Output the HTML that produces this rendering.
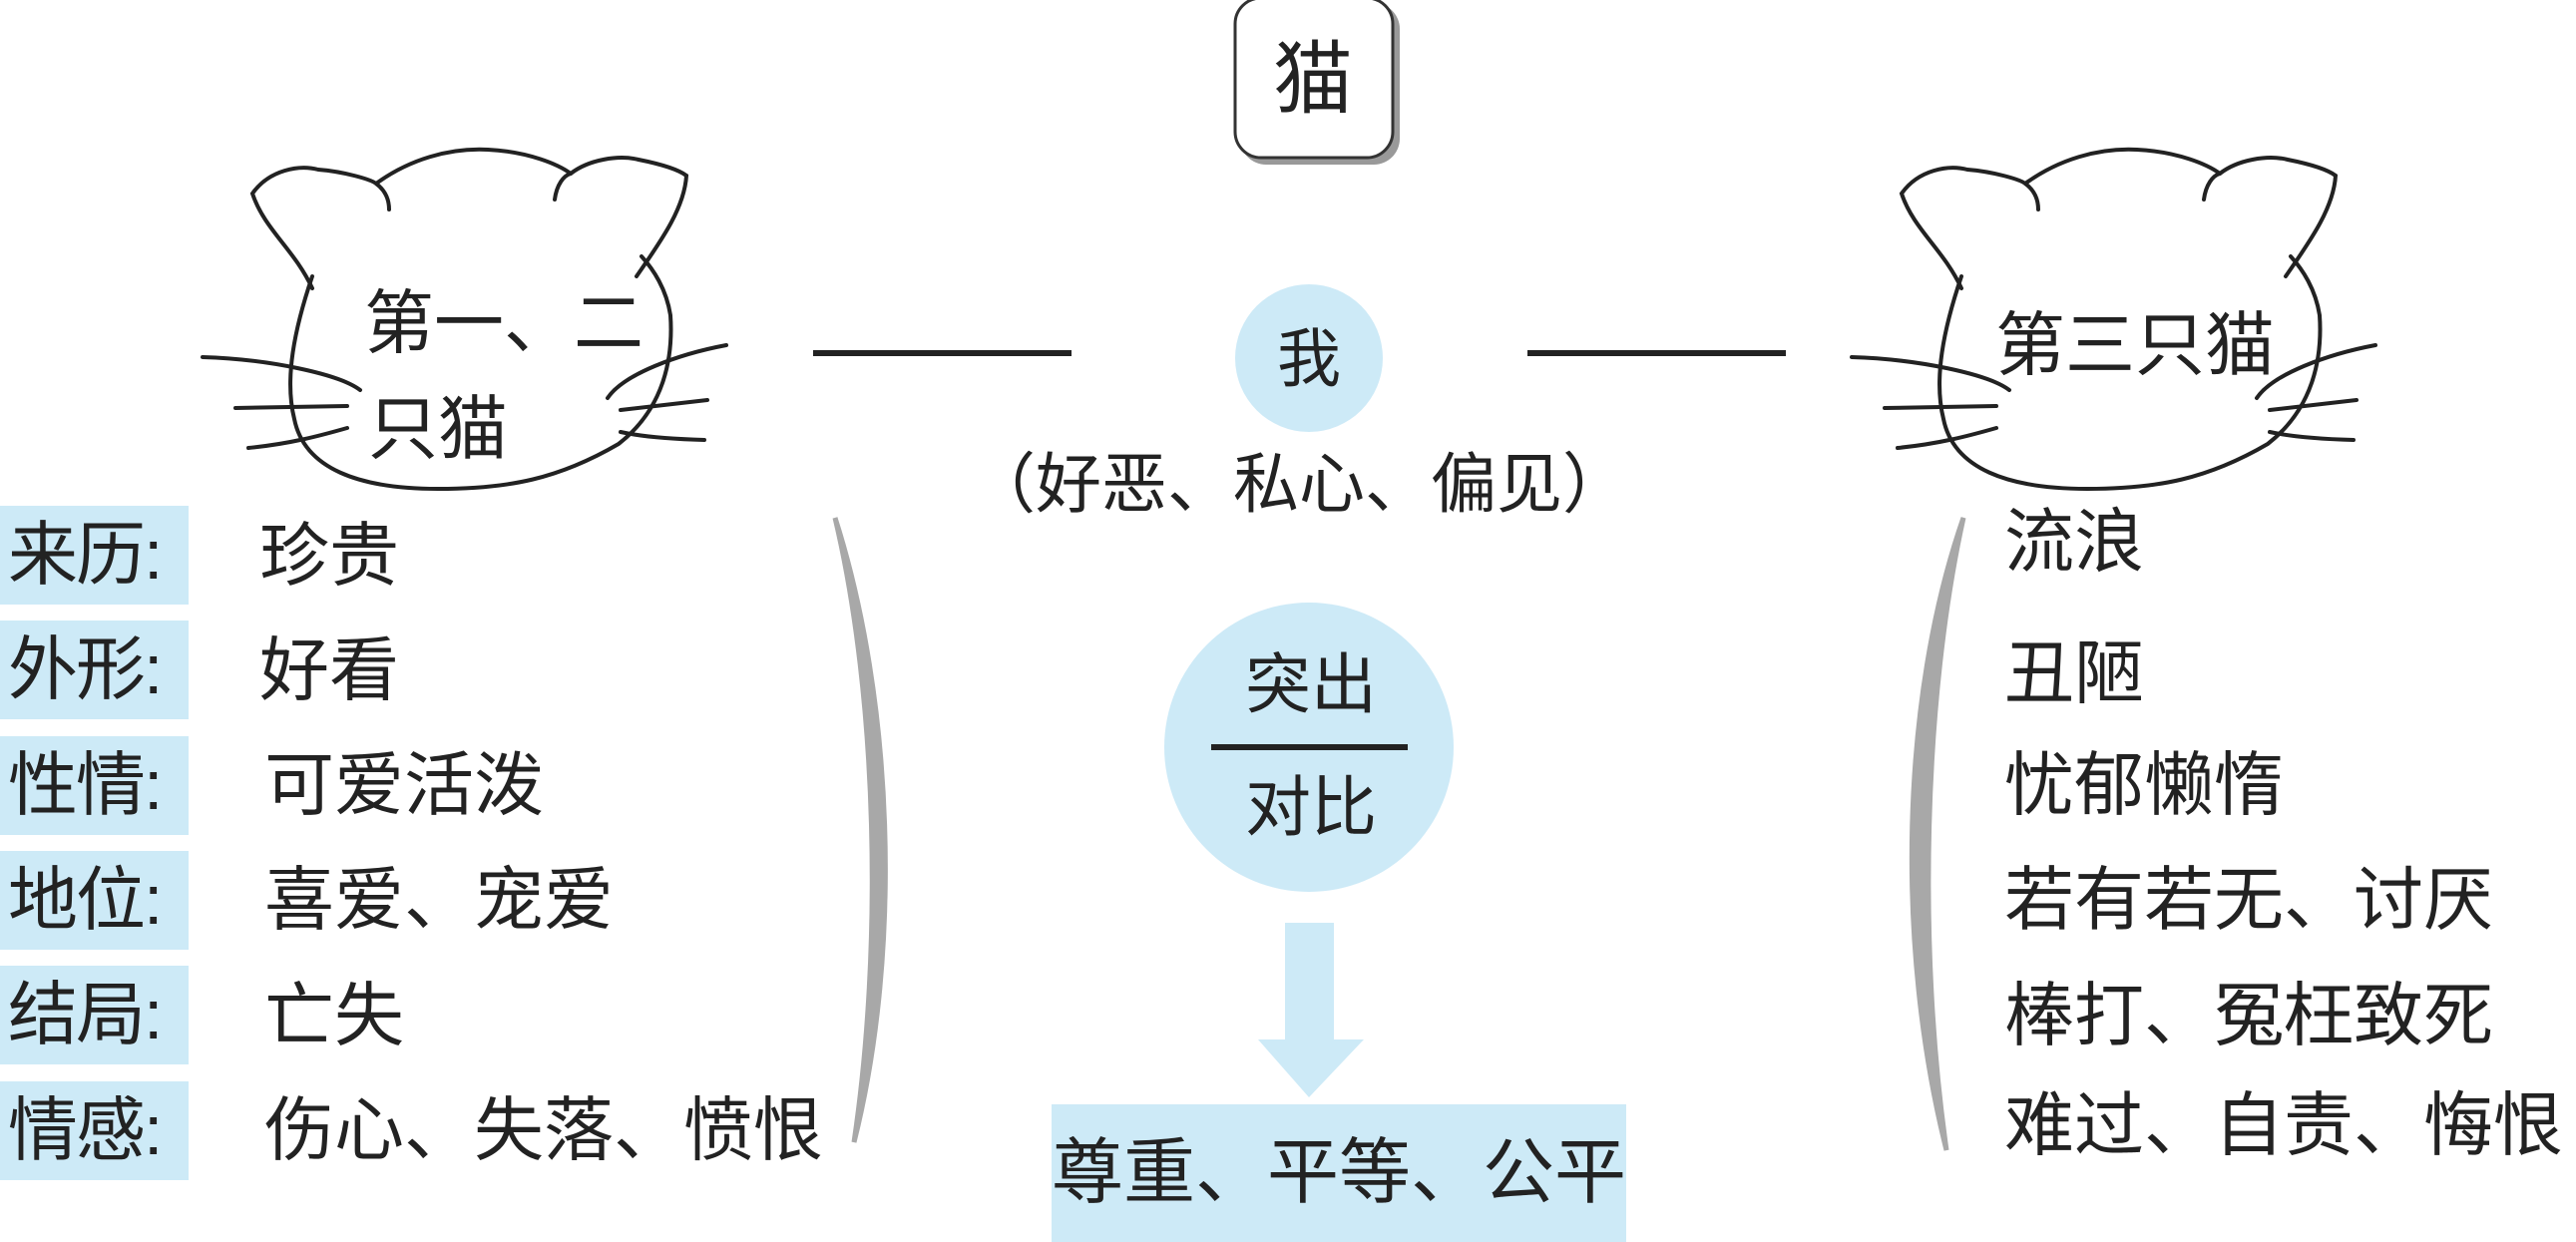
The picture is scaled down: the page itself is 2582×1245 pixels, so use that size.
<!DOCTYPE html>
<html><head><meta charset="utf-8"><style>
html,body{margin:0;padding:0;background:#fff}
body{width:2582px;height:1245px;position:relative;overflow:hidden;font-family:"Liberation Sans","Noto Sans CJK SC",sans-serif;color:#222}
.t{position:absolute;white-space:nowrap;line-height:1}
.lab{position:absolute;left:0;width:189px;height:99px;background:#cdeaf7}
.lab span{position:absolute;left:8px;top:14px;font-size:70px;line-height:1;letter-spacing:-2px}
.v{position:absolute;font-size:70px;line-height:1;white-space:nowrap}
</style></head><body>
<svg width="2582" height="1245" style="position:absolute;left:0;top:0">
<defs>
<g id="cat" fill="none" stroke="#222" stroke-width="4" stroke-linecap="round">
<path d="M313,289 C295,250 265,230 253,194 C270,170 300,165 319,170 C345,172 372,180 377,184 C385,190 390,198 390,210"/>
<path d="M377,184 C410,160 450,148 489,150 C530,152 560,165 572,174"/>
<path d="M556,200 C558,185 565,176 572,174 C590,160 620,155 640,160 C665,165 680,170 688,176 C686,210 660,245 638,277"/>
<path d="M313,277 C295,330 285,380 295,420 C305,470 360,490 439,490 C510,490 560,480 620,445 C665,410 675,360 672,316 C668,290 655,270 643,257"/>
<path d="M203,358 C270,360 340,375 361,391"/>
<path d="M236,409 L348,407"/>
<path d="M249,449 C290,445 320,437 348,429"/>
<path d="M728,346 C680,355 625,375 609,399"/>
<path d="M709,401 L622,411"/>
<path d="M706,441 C670,440 640,437 622,433"/>
</g>
</defs>
<use href="#cat"/>
<use href="#cat" transform="translate(1653,0)"/>
<rect x="1243" y="3" width="160" height="162" rx="26" fill="#999"/>
<rect x="1238" y="-2" width="158" height="160" rx="26" fill="#fff" stroke="#333" stroke-width="3"/>
<line x1="815" y1="354" x2="1074" y2="354" stroke="#222" stroke-width="6"/>
<line x1="1531" y1="354" x2="1790" y2="354" stroke="#222" stroke-width="6"/>
<circle cx="1312" cy="359" r="74" fill="#cdeaf7"/>
<circle cx="1312" cy="749" r="145" fill="#cdeaf7"/>
<line x1="1214" y1="749" x2="1411" y2="749" stroke="#222" stroke-width="6"/>
<path d="M1288,925 H1337 V1042 H1367 L1312,1100 L1261,1042 H1288 Z" fill="#cdeaf7"/>
<rect x="1054" y="1107" width="576" height="138" fill="#cdeaf7"/>
<path d="M837,519 C895,700 905,950 856,1145 C885,950 880,700 837,519 Z" fill="#a8a8a8" stroke="#a8a8a8" stroke-width="5"/>
<path d="M1968,519 C1905,700 1900,950 1951,1153 C1922,950 1928,700 1968,519 Z" fill="#a8a8a8" stroke="#a8a8a8" stroke-width="5"/>
</svg>
<div class="t" style="left:1276px;top:40px;font-size:80px">猫</div>
<div class="t" style="left:365px;top:289px;font-size:70px">第一、二</div>
<div class="t" style="left:369px;top:395px;font-size:70px">只猫</div>
<div class="t" style="left:2000px;top:311px;font-size:70px">第三只猫</div>
<div class="t" style="left:1280px;top:328px;font-size:64px">我</div>
<div class="t" style="left:972px;top:452px;font-size:66px">（好恶、私心、偏见）</div>
<div class="t" style="left:1248px;top:653px;font-size:66px">突出</div>
<div class="t" style="left:1248px;top:776px;font-size:66px">对比</div>
<div class="t" style="left:1054px;top:1140px;font-size:72px">尊重、平等、公平</div>
<div class="lab" style="top:507px"><span>来历:</span></div>
<div class="lab" style="top:622px"><span>外形:</span></div>
<div class="lab" style="top:738px"><span>性情:</span></div>
<div class="lab" style="top:853px"><span>地位:</span></div>
<div class="lab" style="top:968px"><span>结局:</span></div>
<div class="lab" style="top:1084px"><span>情感:</span></div>
<div class="v" style="left:260px;top:522px">珍贵</div>
<div class="v" style="left:260px;top:637px">好看</div>
<div class="v" style="left:265px;top:752px">可爱活泼</div>
<div class="v" style="left:265px;top:867px">喜爱、宠爱</div>
<div class="v" style="left:265px;top:983px">亡失</div>
<div class="v" style="left:265px;top:1098px">伤心、失落、愤恨</div>
<div class="v" style="left:2009px;top:508px">流浪</div>
<div class="v" style="left:2009px;top:640px">丑陋</div>
<div class="v" style="left:2009px;top:752px">忧郁懒惰</div>
<div class="v" style="left:2009px;top:867px">若有若无、讨厌</div>
<div class="v" style="left:2009px;top:983px">棒打、冤枉致死</div>
<div class="v" style="left:2009px;top:1093px">难过、自责、悔恨</div>
</body></html>
